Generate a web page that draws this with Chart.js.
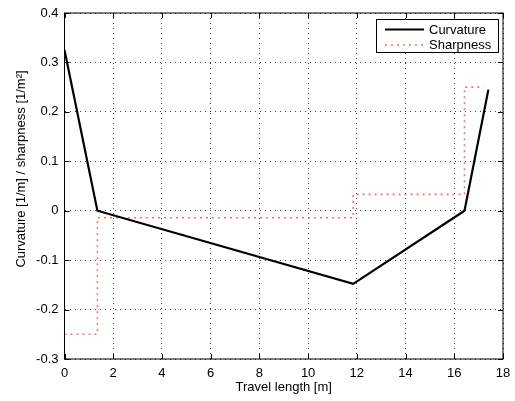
<!DOCTYPE html>
<html>
<head>
<meta charset="utf-8">
<script src="https://cdn.jsdelivr.net/npm/chart.js@4/dist/chart.umd.min.js"></script>
<style>
html,body{margin:0;padding:0;background:#fff;}
#wrap{width:515px;height:401px;position:relative;}
</style>
</head>
<body>
<div id="wrap"><canvas id="c" width="515" height="401"></canvas></div>
<script>
// Data
const curvatureX = [0, 1.35, 11.85, 16.42, 17.4];
const curvatureY = [0.325, 0, -0.148, 0, 0.245];
const sharpnessX = [0, 1.35, 11.85, 16.42, 17.2];
const sharpnessY = [-0.25, -0.0143, 0.033, 0.25, 0.25];
const seriesNames = ['Curvature', 'Sharpness'];
const xTicks = [0, 2, 4, 6, 8, 10, 12, 14, 16, 18];
const yTicks = [-0.3, -0.2, -0.1, 0, 0.1, 0.2, 0.3, 0.4];
const xTitle = 'Travel length [m]';
const yTitle = 'Curvature [1/m] / sharpness [1/m\u00B2]';

const FONT = 'Liberation Sans, Arial, Helvetica, sans-serif';
const RED = 'rgb(240,120,100)';

const toPts = (xs, ys) => xs.map((x, i) => ({x: x, y: ys[i]}));

const framePlugin = {
  id: 'frame',
  afterDraw(chart) {
    const {ctx, chartArea: a, scales} = chart;
    ctx.save();
    ctx.strokeStyle = '#000';
    ctx.lineWidth = 1;
    ctx.setLineDash([]);
    ctx.strokeRect(a.left, a.top, a.right - a.left, a.bottom - a.top);
    const tl = 5;
    ctx.beginPath();
    xTicks.forEach(v => {
      const px = Math.round(scales.x.getPixelForValue(v)) + 0.5;
      ctx.moveTo(px, a.bottom); ctx.lineTo(px, a.bottom - tl);
      ctx.moveTo(px, a.top); ctx.lineTo(px, a.top + tl);
    });
    yTicks.forEach(v => {
      const py = Math.round(scales.y.getPixelForValue(v)) + 0.5;
      ctx.moveTo(a.left, py); ctx.lineTo(a.left + tl, py);
      ctx.moveTo(a.right, py); ctx.lineTo(a.right - tl, py);
    });
    ctx.stroke();

    // y-axis title (centred as in the reference, slightly above the plot centre)
    ctx.save();
    ctx.translate(21, 169);
    ctx.rotate(-Math.PI / 2);
    ctx.fillStyle = '#000';
    ctx.font = '13px ' + FONT;
    ctx.textAlign = 'center';
    ctx.textBaseline = 'middle';
    ctx.fillText(yTitle, 0, 0);
    ctx.restore();

    // legend box
    const bx = a.right - 127, by = a.top + 6, bw = 122, bh = 33;
    ctx.fillStyle = '#fff';
    ctx.fillRect(bx, by, bw, bh);
    ctx.strokeRect(bx + 0.5, by + 0.5, bw, bh);
    const ds = chart.data.datasets;
    const rows = [by + 10.5, by + 26];
    ds.forEach((d, i) => {
      ctx.save();
      ctx.strokeStyle = d.borderColor;
      ctx.lineWidth = d.borderWidth;
      ctx.setLineDash(d.borderDash || []);
      ctx.beginPath();
      ctx.moveTo(bx + 9, rows[i]);
      ctx.lineTo(bx + 48, rows[i]);
      ctx.stroke();
      ctx.restore();
      ctx.fillStyle = '#000';
      ctx.font = '13px ' + FONT;
      ctx.textBaseline = 'middle';
      ctx.textAlign = 'left';
      ctx.fillText(d.label, bx + 53, rows[i] + 0.5);
    });
    ctx.restore();
  }
};

new Chart(document.getElementById('c'), {
  type: 'line',
  data: {
    datasets: [
      {
        label: seriesNames[0],
        data: toPts(curvatureX, curvatureY),
        borderColor: '#000',
        borderWidth: 2.2,
        pointRadius: 0,
        fill: false,
        tension: 0
      },
      {
        label: seriesNames[1],
        data: toPts(sharpnessX, sharpnessY),
        borderColor: RED,
        borderWidth: 1.6,
        borderDash: [2, 4],
        pointRadius: 0,
        fill: false,
        stepped: 'before'
      }
    ]
  },
  options: {
    responsive: false,
    animation: false,
    devicePixelRatio: 1,
    layout: {padding: {left: 0, top: 13, right: 12, bottom: 0}},
    plugins: {legend: {display: false}, tooltip: {enabled: false}},
    scales: {
      x: {
        type: 'linear',
        min: 0, max: 18,
        afterBuildTicks: s => { s.ticks = xTicks.map(v => ({value: v})); },
        afterFit: s => { s.height = 42; s.paddingLeft = 0; s.paddingRight = 0; },
        ticks: {color: '#000', font: {family: FONT, size: 13}, padding: 7, maxRotation: 0,
                callback: v => String(v)},
        grid: {color: '#444', lineWidth: 1, drawTicks: false},
        border: {display: false, dash: [1, 4]},
        title: {display: true, text: xTitle, color: '#000', font: {family: FONT, size: 13}, padding: {top: 0, bottom: 6}}
      },
      y: {
        type: 'linear',
        min: -0.3, max: 0.4,
        afterBuildTicks: s => { s.ticks = yTicks.map(v => ({value: v})); },
        afterFit: s => { s.width = 64.5; s.paddingTop = 0; s.paddingBottom = 0; },
        ticks: {color: '#000', font: {family: FONT, size: 13}, padding: 6,
                callback: v => String(Math.round(v * 10) / 10)},
        grid: {color: '#444', lineWidth: 1, drawTicks: false},
        border: {display: false, dash: [1, 4]},
        title: {display: false, text: yTitle}
      }
    }
  },
  plugins: [framePlugin]
});
</script>
</body>
</html>
